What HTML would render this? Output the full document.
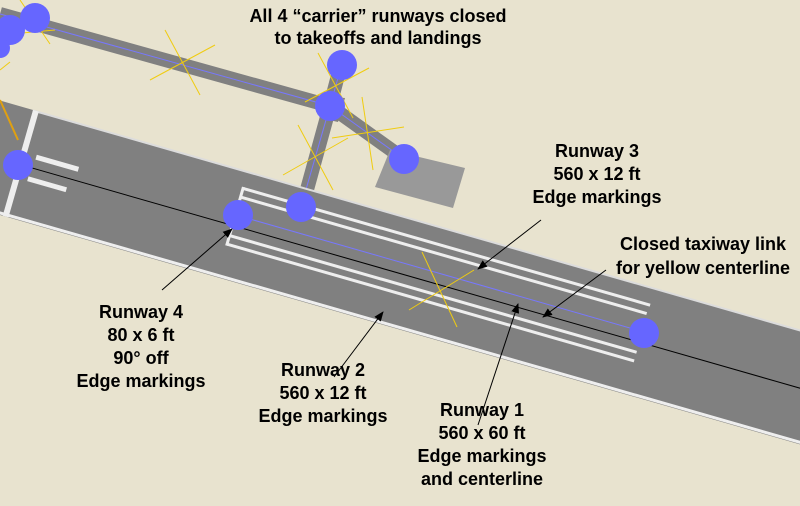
<!DOCTYPE html>
<html><head><meta charset="utf-8"><style>
html,body{margin:0;padding:0;background:#e8e3cf;}
svg{display:block}
text{font-family:"Liberation Sans",Arial,sans-serif;font-weight:bold;font-size:18px;fill:#000;text-anchor:middle}
</style></head><body>
<svg width="800" height="506" viewBox="0 0 800 506" xmlns="http://www.w3.org/2000/svg">
<defs><marker id="ah" markerWidth="10" markerHeight="8" refX="9" refY="4" orient="auto" markerUnits="userSpaceOnUse"><path d="M0,0 L10,4 L0,8 z" fill="#000"/></marker></defs>
<rect width="800" height="506" fill="#e8e3cf"/>
<g stroke="#808080" stroke-width="14" fill="none" stroke-linecap="butt">
<line x1="0" y1="14" x2="330" y2="106"/>
<line x1="330" y1="106" x2="342" y2="60"/>
<line x1="330" y1="106" x2="404" y2="159"/>
<line x1="330" y1="106" x2="300" y2="215"/>
</g>
<polygon points="316,96 345,98 338,122 320,118" fill="#808080"/>
<polygon points="390,150 465,168 453,208 375,187" fill="#999"/>
<g stroke="#7777ff" stroke-width="1" fill="none">
<line x1="0" y1="14" x2="330" y2="106"/>
<line x1="330" y1="106" x2="342" y2="64"/>
<line x1="330" y1="106" x2="404" y2="159"/>
<line x1="330" y1="106" x2="301" y2="207"/>
</g>
<g transform="translate(33,110) rotate(16)">
<rect x="-60" y="0" width="960" height="110" fill="#808080"/>
<line x1="0" y1="0.5" x2="900" y2="0.5" stroke="#dcdcdc" stroke-width="2"/>
<line x1="-60" y1="108" x2="900" y2="108" stroke="#eee" stroke-width="3"/>
<rect x="0" y="0" width="6" height="110" fill="#eee"/>
<rect x="16" y="42" width="44" height="5" fill="#eee"/>
<rect x="14" y="65" width="40" height="5" fill="#eee"/>
<g fill="#eee">
<rect x="224" y="16" width="423" height="3"/>
<rect x="224" y="25" width="422" height="3"/>
<rect x="224" y="65" width="423" height="3"/>
<rect x="224" y="74" width="423" height="3"/>
<rect x="222" y="16" width="3" height="61"/>
</g>
<line x1="226" y1="45" x2="649" y2="45" stroke="#7777ff" stroke-width="1"/>
<line x1="0" y1="56" x2="900" y2="56" stroke="#000" stroke-width="1"/>
</g>
<g stroke="#f0cc10" stroke-width="1" fill="none">
<line x1="165" y1="30" x2="200" y2="95"/><line x1="215" y1="45" x2="150" y2="80"/>
<line x1="318" y1="53" x2="353" y2="118"/><line x1="305" y1="102" x2="369" y2="68"/>
<line x1="362" y1="97" x2="373" y2="170"/><line x1="332" y1="138" x2="404" y2="127"/>
<line x1="298" y1="125" x2="333" y2="190"/><line x1="283" y1="175" x2="348" y2="138"/>
<line x1="422" y1="252" x2="457" y2="327"/><line x1="409" y1="310" x2="474" y2="270"/>
<line x1="20" y1="0" x2="50" y2="44"/><line x1="0" y1="35" x2="55" y2="30"/>
<line x1="0" y1="70" x2="10" y2="62"/>
</g>
<line x1="0" y1="100" x2="18" y2="140" stroke="#e0a010" stroke-width="2"/>
<g fill="#6666ff">
<circle cx="10" cy="30" r="15"/><circle cx="35" cy="18" r="15"/><circle cx="0" cy="48" r="10"/>
<circle cx="342" cy="65" r="15"/><circle cx="330" cy="106" r="15"/><circle cx="404" cy="159" r="15"/>
<circle cx="301" cy="207" r="15"/><circle cx="18" cy="165" r="15"/><circle cx="238" cy="215" r="15"/>
<circle cx="644" cy="333" r="15"/>
</g>
<g stroke="#000" stroke-width="1" marker-end="url(#ah)">
<line x1="162" y1="290" x2="232" y2="229"/>
<line x1="334" y1="377" x2="383" y2="312"/>
<line x1="478" y1="425" x2="518" y2="304"/>
<line x1="541" y1="220" x2="478" y2="269"/>
<line x1="606" y1="270" x2="543" y2="317"/>
</g>
<text x="378" y="22">All 4 “carrier” runways closed</text>
<text x="378" y="44">to takeoffs and landings</text>
<text x="597" y="157">Runway 3</text>
<text x="597" y="180">560 x 12 ft</text>
<text x="597" y="203">Edge markings</text>
<text x="703" y="250">Closed taxiway link</text>
<text x="703" y="274">for yellow centerline</text>
<text x="141" y="318">Runway 4</text>
<text x="141" y="341">80 x 6 ft</text>
<text x="141" y="364">90° off</text>
<text x="141" y="387">Edge markings</text>
<text x="323" y="376">Runway 2</text>
<text x="323" y="399">560 x 12 ft</text>
<text x="323" y="422">Edge markings</text>
<text x="482" y="416">Runway 1</text>
<text x="482" y="439">560 x 60 ft</text>
<text x="482" y="462">Edge markings</text>
<text x="482" y="485">and centerline</text>
</svg>
</body></html>
